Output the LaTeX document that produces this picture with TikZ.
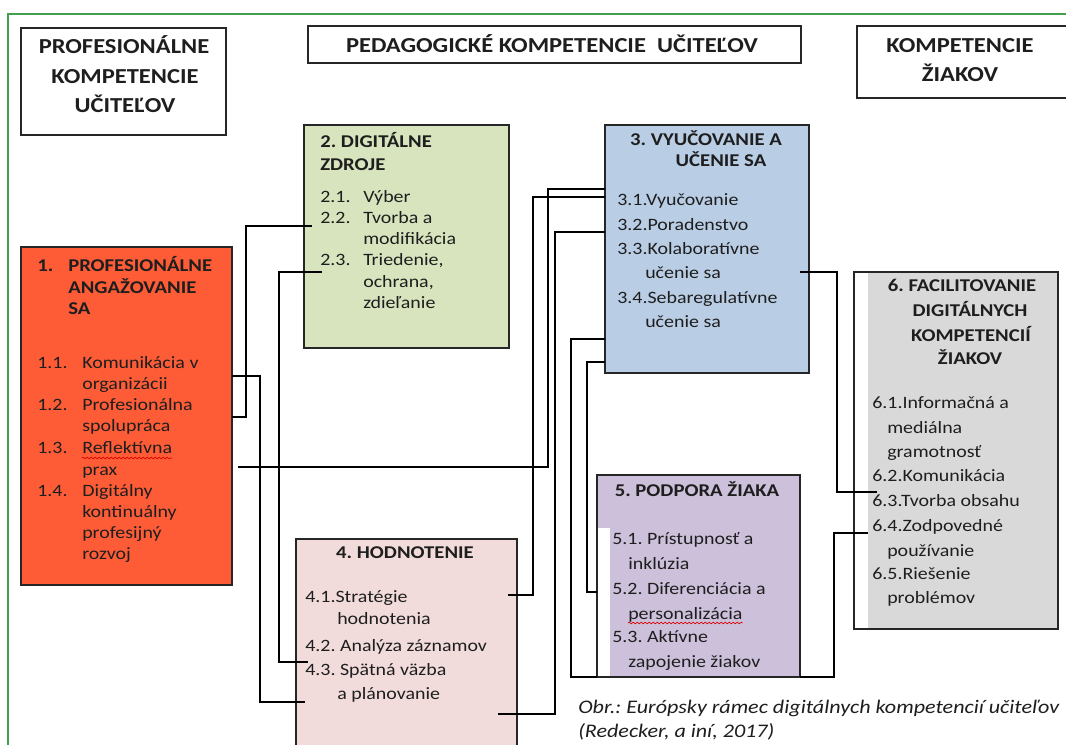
\documentclass[tikz,border=0pt]{standalone}
\usepackage{fontspec}
\setmainfont{Carlito}[FakeStretch=1.15]
\usetikzlibrary{fit,decorations.pathmorphing}
\definecolor{frameG}{RGB}{64,160,80}
\definecolor{fillA}{RGB}{254,92,54}
\definecolor{fillB}{RGB}{215,228,189}
\definecolor{fillC}{RGB}{185,205,229}
\definecolor{fillD}{RGB}{242,220,219}
\definecolor{fillE}{RGB}{204,192,218}
\definecolor{fillF}{RGB}{217,217,217}
\definecolor{ink}{RGB}{30,30,30}
\tikzset{
 box/.style={draw=black!85, line width=1.2pt, inner sep=0pt, outer sep=0pt},
 conn/.style={draw=black, line width=0.9pt},
 tl/.style={anchor=west, inner sep=0pt, text height=7.8pt, text depth=0pt, text=ink, font=\fontsize{13}{15}\selectfont},
 hl/.style={tl, text height=8.7pt, font=\fontsize{13.5}{16}\selectfont\bfseries},
 hc/.style={hl, anchor=center},
 tc/.style={anchor=center, inner sep=0pt, text height=10.3pt, text depth=0pt, text=ink, font=\fontsize{16}{19}\selectfont\bfseries},
 captxt/.style={anchor=west, inner sep=0pt, text height=9.3pt, text depth=0pt, text=ink, font=\fontsize{14.4}{18}\selectfont\itshape},
 squig/.style={draw=red!85!black, line width=0.5pt, decorate, decoration={snake, segment length=3pt, amplitude=0.6pt}}
}
\begin{document}
\frenchspacing
\begin{tikzpicture}[x=0.75pt,y=-0.75pt]
\path[use as bounding box] (0,0) rectangle (1066,745);
\clip (0,0) rectangle (1066,745);
\fill[white] (0,0) rectangle (1066,745);
% green frame
\draw[frameG, line width=1.8pt] (8,760) -- (8,14) -- (1080,14);

% boxes
\node[box, fill=white, fit={(21,28) (226,135)}] (hA) {};
\node[box, fill=white, fit={(308,26) (801,63)}] (hB) {};
\node[box, fill=white, fit={(857,26) (1080,98)}] (hC) {};
\node[box, fill=fillA, fit={(21,247) (232,585)}] (b1) {};
\node[box, fill=fillB, fit={(304,125) (509,348)}] (b2) {};
\node[box, fill=fillC, fit={(605,125) (809,373)}] (b3) {};
\node[box, fill=fillD, fit={(296,539) (517,770)}] (b4) {};
\node[box, fill=fillE, fit={(597,475) (800,677)}] (b5) {};
\node[box, fill=fillF, fit={(854,272) (1058,629)}] (b6) {};
\fill[white] (598,528) rectangle (610,676);
\fill[white] (855,273) rectangle (868,628);

% connector ends
\coordinate (c22) at (312,226);
\coordinate (c23) at (322,272);
\coordinate (c13) at (238,467);
\coordinate (c41) at (508,595);
\coordinate (c43a) at (308,662);
\coordinate (c43b) at (305,702);
\coordinate (c44) at (498,714);
\coordinate (c33) at (800,272);
\coordinate (c63) at (877,492);
\coordinate (c64) at (868,533);

% connectors
\draw[conn] (c22) -| (246,417) -- (b1.east |- 0,417);
\draw[conn] (c23) -| (279,662) -- (c43a);
\draw[conn] (b1.east |- 0,376) -| (260,702) -- (c43b);
\draw[conn] (c13) -| (548,189) -- (b3.west |- 0,189);
\draw[conn] (b3.west |- 0,197) -| (533,595) -- (c41);
\draw[conn] (b3.west |- 0,232) -| (555,714) -- (c44);
\draw[conn] (b3.west |- 0,339) -| (571,677) -- (b5.south west);
\draw[conn] (b3.west |- 0,362) -| (587,592) -- (b5.west |- 0,592);
\draw[conn] (c33) -| (837,492) -- (c63);
\draw[conn] (c64) -| (834,677) -- (b5.east |- 0,677);

% header texts
\node[tc] (tA1) at (124,47) {PROFESIONÁLNE};
\node[tc] (tA2) at (125,77) {KOMPETENCIE};
\node[tc] (tA3) at (125,106) {UČITEĽOV};
\node[tc] (tB) at (552,46) {PEDAGOGICKÉ KOMPETENCIE\ \ UČITEĽOV};
\node[tc] (tC1) at (960,46) {KOMPETENCIE};
\node[tc] (tC2) at (960,75) {ŽIAKOV};

% box 1
\node[hl] (h1n) at (37,266) {1.};
\node[hl] (h1a) at (68,266) {PROFESIONÁLNE};
\node[hl] (h1b) at (68,288) {ANGAŽOVANIE};
\node[hl] (h1c) at (68,309) {SA};
\node[tl] (n11) at (37,363) {1.1.};
\node[tl] (t11a) at (82,363) {Komunikácia v};
\node[tl] (t11b) at (82,384) {organizácii};
\node[tl] (n12) at (37,405) {1.2.};
\node[tl] (t12a) at (82,405) {Profesionálna};
\node[tl] (t12b) at (82,426) {spolupráca};
\node[tl] (n13) at (37,448) {1.3.};
\node[tl] (t13a) at (82,448) {Reflektívna};
\node[tl] (t13b) at (82,470) {prax};
\node[tl] (n14) at (37,491) {1.4.};
\node[tl] (t14a) at (82,491) {Digitálny};
\node[tl] (t14b) at (82,512) {kontinuálny};
\node[tl] (t14c) at (82,533) {profesijný};
\node[tl] (t14d) at (82,554) {rozvoj};
\draw[squig] (t13a.west |- 0,458) -- (t13a.east |- 0,458);

% box 2
\node[hl] (h2a) at (320,142) {2. DIGITÁLNE};
\node[hl] (h2b) at (320,165) {ZDROJE};
\node[tl] (n21) at (320,197) {2.1.};
\node[tl] (t21) at (363,197) {Výber};
\node[tl] (n22) at (320,218) {2.2.};
\node[tl] (t22a) at (363,218) {Tvorba a};
\node[tl] (t22b) at (363,239) {modifikácia};
\node[tl] (n23) at (320,260) {2.3.};
\node[tl] (t23a) at (363,260) {Triedenie,};
\node[tl] (t23b) at (363,282) {ochrana,};
\node[tl] (t23c) at (363,303) {zdieľanie};

% box 3
\node[hc] (h3a) at (706,140) {3. VYUČOVANIE A};
\node[hc] (h3b) at (721,161) {UČENIE SA};
\node[tl] (t31) at (617,200) {3.1.Vyučovanie};
\node[tl] (t32) at (617,225) {3.2.Poradenstvo};
\node[tl] (t33a) at (617,249) {3.3.Kolaboratívne};
\node[tl] (t33b) at (645,273) {učenie sa};
\node[tl] (t34a) at (617,298) {3.4.Sebaregulatívne};
\node[tl] (t34b) at (645,322) {učenie sa};

% box 4
\node[hc] (h4) at (405,553) {4. HODNOTENIE};
\node[tl] (t41a) at (305,597) {4.1.Stratégie};
\node[tl] (t41b) at (337,619) {hodnotenia};
\node[tl] (t42) at (305,646) {4.2. Analýza záznamov};
\node[tl] (t43a) at (305,670) {4.3. Spätná väzba};
\node[tl] (t43b) at (337,694) {a plánovanie};

% box 5
\node[hc] (h5) at (697,491) {5. PODPORA ŽIAKA};
\node[tl] (t51a) at (612,539) {5.1. Prístupnosť a};
\node[tl] (t51b) at (628,564) {inklúzia};
\node[tl] (t52a) at (612,589) {5.2. Diferenciácia a};
\node[tl] (t52b) at (628,614) {personalizácia};
\node[tl] (t53a) at (612,637) {5.3. Aktívne};
\node[tl] (t53b) at (628,662) {zapojenie žiakov};
\draw[squig] (t52b.west |- 0,623) -- (t52b.east |- 0,623);

% box 6
\node[hc] (h6a) at (962,286) {6. FACILITOVANIE};
\node[hc] (h6b) at (970,311) {DIGITÁLNYCH};
\node[hc] (h6c) at (971,336) {KOMPETENCIÍ};
\node[hc] (h6d) at (970,359) {ŽIAKOV};
\node[tl] (t61a) at (872,403) {6.1.Informačná a};
\node[tl] (t61b) at (887,428) {mediálna};
\node[tl] (t61c) at (887,452) {gramotnosť};
\node[tl] (t62) at (872,476) {6.2.Komunikácia};
\node[tl] (t63) at (872,501) {6.3.Tvorba obsahu};
\node[tl] (t64a) at (872,526) {6.4.Zodpovedné};
\node[tl] (t64b) at (887,551) {používanie};
\node[tl] (t65a) at (872,574) {6.5.Riešenie};
\node[tl] (t65b) at (887,598) {problémov};

% caption
\node[captxt] (cap1) at (578,707) {Obr.: Európsky rámec digitálnych kompetencií učiteľov};
\node[captxt] (cap2) at (578,731) {(Redecker, a iní, 2017)};
\end{tikzpicture}
\end{document}
